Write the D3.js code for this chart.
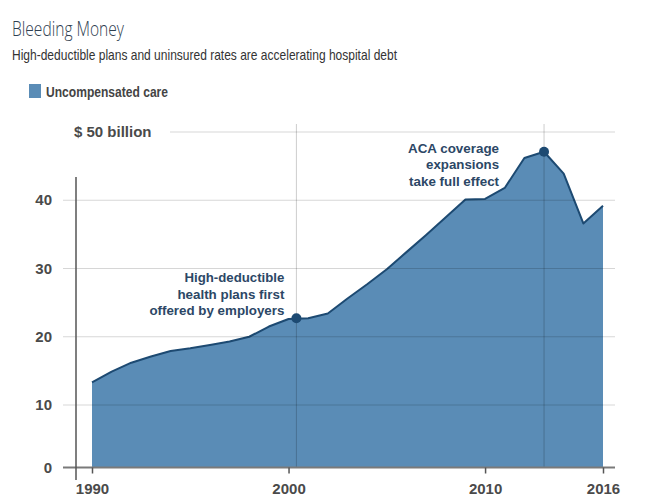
<!DOCTYPE html>
<html><head><meta charset="utf-8">
<script src="https://cdn.jsdelivr.net/npm/d3@7"></script>
<style>
body{margin:0;background:#fff;}
svg text{font-family:"Liberation Sans",Arial,Helvetica,sans-serif;}
</style></head><body>
<svg id="chart" width="650" height="500"></svg>
<script>
// ---- data ----
const years = [1990,1991,1992,1993,1994,1995,1996,1997,1998,1999,2000,2001,2002,2003,2004,2005,2006,2007,2008,2009,2010,2011,2012,2013,2014,2015,2016];
const values = [13.3,14.9,16.2,17.1,17.9,18.3,18.8,19.3,20.0,21.5,22.6,22.7,23.4,25.6,27.7,29.9,32.4,34.9,37.5,40.1,40.2,41.8,46.2,47.1,43.9,36.6,39.2];
const yTicks = [0,10,20,30,40,50];
const xTicks = [1990,2000,2010,2016];
const seriesName = "Uncompensated care";
const noteYears = [2000.4, 2013];
const noteValues = [22.7, 47.1];
const noteLabels = [
  ["High-deductible","health plans first","offered by employers"],
  ["ACA coverage","expansions","take full effect"]
];

// ---- layout ----
const svg = d3.select("#chart");
const x = d3.scaleLinear().domain([1990, 2016]).range([92, 603]);
const y = d3.scaleLinear().domain([0, 10, 50]).range([467.5, 405, 132]);
const fillBlue = "#5a8cb6", lineBlue = "#1d4a72", noteColor = "#2c4766";
const data = years.map((yr, i) => ({year: yr, value: values[i]}));

// title / subtitle
svg.append("text").attr("x", 12).attr("y", 36)
  .style("font-family", "'Open Sans','Lato',sans-serif").style("font-weight", 300)
  .style("font-size", "20px").attr("fill", "#2f3e50")
  .attr("textLength", 112).attr("lengthAdjust", "spacingAndGlyphs")
  .text("Bleeding Money");
svg.append("text").attr("x", 12).attr("y", 60)
  .style("font-size", "15px").attr("fill", "#333")
  .attr("textLength", 385).attr("lengthAdjust", "spacingAndGlyphs")
  .text("High-deductible plans and uninsured rates are accelerating hospital debt");

// legend
svg.append("rect").attr("x", 29).attr("y", 84).attr("width", 12).attr("height", 14).attr("fill", fillBlue);
svg.append("text").attr("x", 46).attr("y", 97)
  .style("font-size", "15px").style("font-weight", "bold").attr("fill", "#444")
  .attr("textLength", 122).attr("lengthAdjust", "spacingAndGlyphs")
  .text(seriesName);

// area + line
const area = d3.area().x(d => x(d.year)).y0(y(0)).y1(d => y(d.value)).curve(d3.curveLinear);
const line = d3.line().x(d => x(d.year)).y(d => y(d.value)).curve(d3.curveLinear);
svg.append("path").datum(data).attr("d", area).attr("fill", fillBlue);
svg.append("path").datum(data).attr("d", line).attr("fill", "none")
  .attr("stroke", lineBlue).attr("stroke-width", 2).attr("stroke-linejoin", "round");

// gridlines (drawn over area, translucent)
const grid = svg.append("g");
yTicks.filter(v => v > 0).forEach(v => {
  grid.append("line")
    .attr("x1", v === 50 ? 170 : 63).attr("x2", 615)
    .attr("y1", y(v)).attr("y2", y(v))
    .attr("stroke", "#000").attr("stroke-opacity", 0.16).attr("stroke-width", 1);
});

// y labels
yTicks.forEach(v => {
  if (v === 50) {
    svg.append("text").attr("x", 74).attr("y", y(v) + 5)
      .style("font-size", "15px").style("font-weight", "bold").attr("fill", "#4a4a4a")
      .text("$ 50 billion");
  } else {
    svg.append("text").attr("x", 52).attr("y", y(v) + 5).attr("text-anchor", "end")
      .style("font-size", "15px").style("font-weight", "bold").attr("fill", "#4a4a4a")
      .text(v);
  }
});

// axes lines
svg.append("line").attr("x1", 63).attr("x2", 615).attr("y1", y(0)).attr("y2", y(0))
  .attr("stroke", "#7a7a7a").attr("stroke-width", 2);
svg.append("line").attr("x1", 76).attr("x2", 76).attr("y1", 177).attr("y2", 480)
  .attr("stroke", "#555").attr("stroke-width", 1.5);

// x axis ticks
const xAxis = svg.append("g").attr("transform", `translate(0,${y(0)})`)
  .call(d3.axisBottom(x).tickValues(xTicks).tickSize(6).tickPadding(10).tickFormat(d3.format("d")));
xAxis.select(".domain").remove();
xAxis.selectAll(".tick line").attr("stroke", "#555").attr("stroke-width", 1.5);
xAxis.selectAll(".tick text").style("font-size", "15px").style("font-weight", "bold")
  .attr("fill", "#4a4a4a").style("font-family", "'Liberation Sans',Arial,sans-serif");

// annotations
const noteWidths = [[100,107,135],[91,73,90]];
noteYears.forEach((yr, i) => {
  const cx = x(yr), cy = y(noteValues[i]);
  svg.append("line").attr("x1", cx).attr("x2", cx).attr("y1", 124).attr("y2", y(0) - 1)
    .attr("stroke", "#000").attr("stroke-opacity", 0.2).attr("stroke-width", 1);
  svg.append("circle").attr("cx", cx).attr("cy", cy).attr("r", 5).attr("fill", "#1d4a72");
  const tx = i === 0 ? cx - 12 : cx - 45;
  const ty0 = i === 0 ? cy - 36 : cy + 1;
  noteLabels[i].forEach((t, j) => {
    svg.append("text").attr("x", tx).attr("y", ty0 + j * 16.5).attr("text-anchor", "end")
      .style("font-size", "13.5px").style("font-weight", "bold").attr("fill", noteColor)
      .attr("textLength", noteWidths[i][j]).attr("lengthAdjust", "spacingAndGlyphs")
      .text(t);
  });
});
</script>
</body></html>
